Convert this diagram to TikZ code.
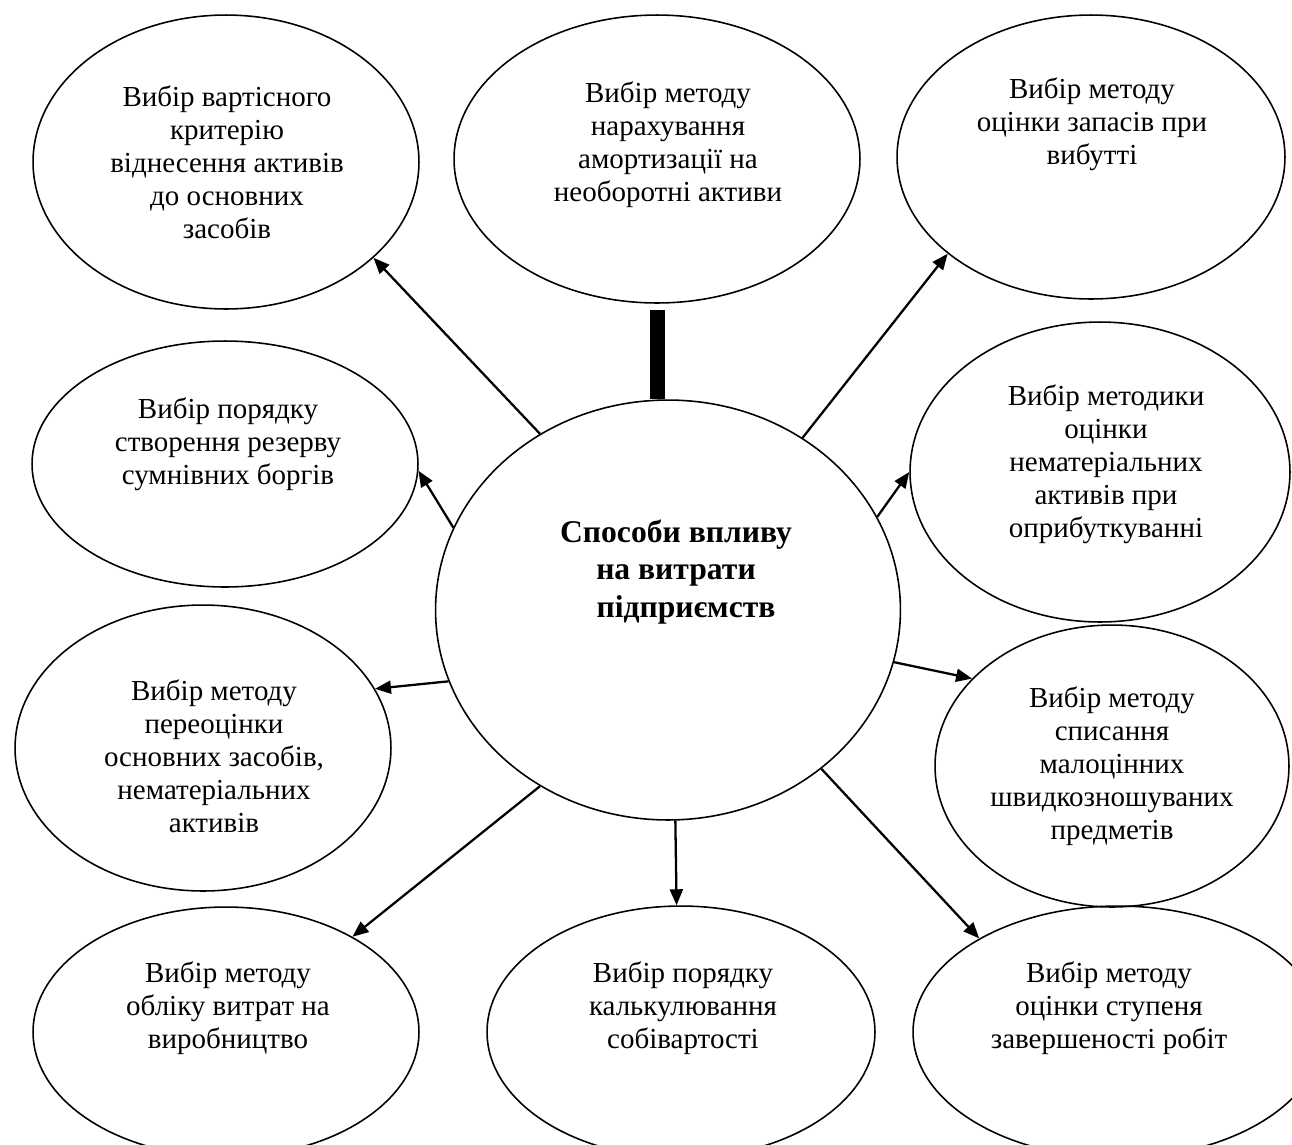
\documentclass[tikz,border=0pt]{standalone}
\usepackage{fontspec}
\setmainfont{Liberation Serif}
\usetikzlibrary{arrows.meta,shapes.geometric}

\begin{document}
\begin{tikzpicture}[x=0.02cm, y=-0.02cm,
		oval/.style={draw, ellipse, line width=0.9pt, inner sep=0pt},
		txt/.style={align=center, font=\fontsize{16.5}{18.8}\selectfont},
		link/.style={line width=1.3pt, -{Triangle[length=0.32cm, width=0.26cm]}}]
	\useasboundingbox (0,0) rectangle (1292,1144);
	
	% Central ellipse
	\node[oval, minimum width=9.3cm, minimum height=8.4cm] (vplyv) at (668,610) {};
	\node[txt, font=\fontsize{18}{21.6}\selectfont\bfseries] (vplyvT) at (676,572)
		{Способи впливу\\на витрати\\\hspace*{0.4cm}підприємств};
	
	% Outer ellipses
	\node[oval, minimum width=7.72cm, minimum height=5.88cm] (vartist) at (226,162) {};
	\node[oval, minimum width=8.12cm, minimum height=5.76cm] (amort) at (657,159) {};
	\node[oval, minimum width=7.76cm, minimum height=5.68cm] (zapasy) at (1091,157) {};
	\node[oval, minimum width=7.72cm, minimum height=4.92cm] (rezerv) at (225,464) {};
	\node[oval, minimum width=7.6cm, minimum height=6.0cm] (nemat) at (1100,472) {};
	\node[oval, minimum width=7.52cm, minimum height=5.72cm] (pereots) at (203,748) {};
	\node[oval, minimum width=7.08cm, minimum height=5.64cm] (msh) at (1112,766) {};
	\node[oval, minimum width=7.72cm, minimum height=5.0cm] (oblik) at (226,1032) {};
	\node[oval, minimum width=7.76cm, minimum height=5.04cm] (kalk) at (681,1032) {};
	\node[oval, minimum width=8.2cm, minimum height=5.04cm] (stupin) at (1118,1032) {};
	
	% Texts
	\node[txt] (vartistT) at (227,162) {Вибір вартісного\\критерію\\віднесення активів\\до основних\\засобів};
	\node[txt] (amortT) at (668,145) {Вибір методу\\нарахування\\амортизації на\\необоротні активи};
	\node[txt] (zapasyT) at (1092,124) {Вибір методу\\оцінки запасів при\\вибутті};
	\node[txt] (rezervT) at (228,444) {Вибір порядку\\створення резерву\\сумнівних боргів};
	\node[txt] (nematT) at (1106,464) {Вибір методики\\оцінки\\нематеріальних\\активів при\\оприбуткуванні};
	\node[txt] (pereotsT) at (214,756) {Вибір методу\\переоцінки\\основних засобів,\\нематеріальних\\активів};
	\node[txt] (mshT) at (1112,766) {Вибір методу\\списання\\малоцінних\\швидкозношуваних\\предметів};
	\node[txt] (oblikT) at (228,1008) {Вибір методу\\обліку витрат на\\виробництво};
	\node[txt] (kalkT) at (683,1008) {Вибір порядку\\калькулювання\\собівартості};
	\node[txt] (stupinT) at (1109,1008) {Вибір методу\\оцінки ступеня\\завершеності робіт};
	
	% Thick bar to the top ellipse
	\draw[line width=0.3cm] ([yshift=-0.12cm]amort.south) -- (amort.south |- vplyv.north);
	
	% Arrows
	\draw[link] (vplyv.126) -- (vartist.-33);
	\draw[link] (vplyv.52) -- (zapasy.214);
	\draw[link] (vplyv.159) -- (rezerv.-2);
	\draw[link] (vplyv.24) -- (nemat.180);
	\draw[link] (vplyv.198) -- (pereots.19);
	\draw[link] (vplyv.-13) -- (msh.148);
	\draw[link] (vplyv.234) -- (oblik.37);
	\draw[link] (vplyv.-88) -- (kalk.92);
	\draw[link] (vplyv.-46) -- (stupin.146);
\end{tikzpicture}
\end{document}
